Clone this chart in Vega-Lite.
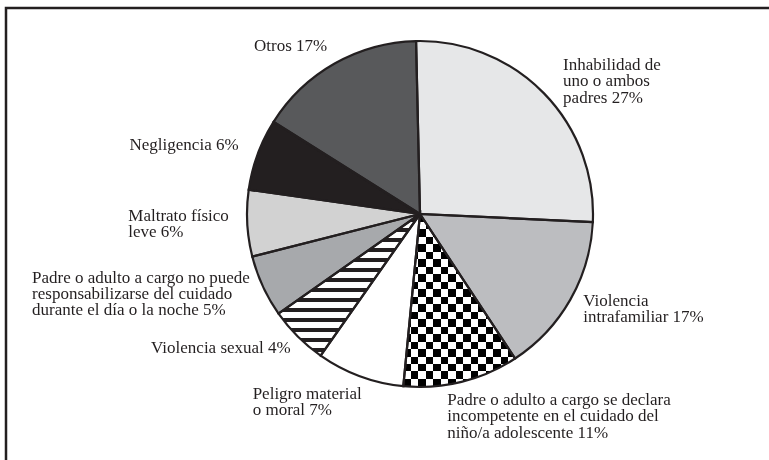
{
  "$schema": "https://vega.github.io/schema/vega-lite/v6.json",
  "width": 763,
  "height": 452,
  "autosize": {"type": "none"},
  "padding": {"left": 6, "top": 8, "right": 0, "bottom": 0},
  "background": "#ffffff",
  "config": {
    "view": {"stroke": "#231f20", "strokeWidth": 2.5, "strokeDash": [763, 1215, 452]}
  },
  "data": {
    "values": [
      {"i": 1, "cat": "Inhabilidad", "label": "Inhabilidad de\nuno o ambos\npadres 27%", "value": 26.1},
      {"i": 2, "cat": "Violencia intrafamiliar", "label": "Violencia\nintrafamiliar 17%", "value": 15.0},
      {"i": 3, "cat": "Incompetente", "label": "Padre o adulto a cargo se declara\nincompetente en el cuidado del\nniño/a adolescente 11%", "value": 10.8},
      {"i": 4, "cat": "Peligro", "label": "Peligro material\no moral 7%", "value": 8.2},
      {"i": 5, "cat": "Violencia sexual", "label": "Violencia sexual 4%", "value": 5.5},
      {"i": 6, "cat": "No puede", "label": "Padre o adulto a cargo no puede\nresponsabilizarse del cuidado\ndurante el día o la noche 5%", "value": 5.8},
      {"i": 7, "cat": "Maltrato", "label": "Maltrato físico\nleve 6%", "value": 6.2},
      {"i": 8, "cat": "Negligencia", "label": "Negligencia 6%", "value": 6.7},
      {"i": 9, "cat": "Otros", "label": "Otros 17%", "value": 15.7}
    ]
  },
  "layer": [
    {
      "mark": {"type": "point", "opacity": 0},
      "encoding": {
        "x": {"datum": 0, "type": "quantitative", "axis": null, "scale": {"domain": [0, 1]}},
        "y": {"datum": 0, "type": "quantitative", "axis": null, "scale": {"domain": [0, 1]}}
      }
    },
    {
      "mark": {"type": "arc", "x": 414, "y": 206, "radius": 173, "stroke": null},
      "encoding": {
        "theta": {"field": "value", "type": "quantitative", "stack": true, "scale": {"domain": [0, 100], "range": [-0.02269, 6.26049]}},
        "order": {"field": "i", "type": "quantitative"},
        "color": {
          "field": "cat", "type": "nominal", "legend": null,
          "scale": {
            "domain": ["Inhabilidad", "Violencia intrafamiliar", "Incompetente", "Peligro", "Violencia sexual", "No puede", "Maltrato", "Negligencia", "Otros"],
            "range": ["#e6e7e8", "#bcbdc0", "#ffffff", "#ffffff", "#ffffff", "#a7a9ac", "#d2d2d2", "#231f20", "#58595b"]
          }
        }
      }
    },
    {
      "mark": {"type": "arc", "x": 414, "y": 206, "radius": 173, "stroke": null,
        "fill": {"gradient": "linear", "x1": 0, "y1": 0, "x2": 0, "y2": 1, "stops": [
          {"offset": 0, "color": "#ffffff"}, {"offset": 0.0283, "color": "#ffffff"}, {"offset": 0.0283, "color": "#231f20"}, {"offset": 0.0566, "color": "#231f20"},
          {"offset": 0.0566, "color": "#ffffff"}, {"offset": 0.0990, "color": "#ffffff"}, {"offset": 0.0990, "color": "#231f20"}, {"offset": 0.1273, "color": "#231f20"},
          {"offset": 0.1273, "color": "#ffffff"}, {"offset": 0.1697, "color": "#ffffff"}, {"offset": 0.1697, "color": "#231f20"}, {"offset": 0.1980, "color": "#231f20"},
          {"offset": 0.1980, "color": "#ffffff"}, {"offset": 0.2405, "color": "#ffffff"}, {"offset": 0.2405, "color": "#231f20"}, {"offset": 0.2687, "color": "#231f20"},
          {"offset": 0.2687, "color": "#ffffff"}, {"offset": 0.3112, "color": "#ffffff"}, {"offset": 0.3112, "color": "#231f20"}, {"offset": 0.3395, "color": "#231f20"},
          {"offset": 0.3395, "color": "#ffffff"}, {"offset": 0.3819, "color": "#ffffff"}, {"offset": 0.3819, "color": "#231f20"}, {"offset": 0.4102, "color": "#231f20"},
          {"offset": 0.4102, "color": "#ffffff"}, {"offset": 0.4526, "color": "#ffffff"}, {"offset": 0.4526, "color": "#231f20"}, {"offset": 0.4809, "color": "#231f20"},
          {"offset": 0.4809, "color": "#ffffff"}, {"offset": 0.5233, "color": "#ffffff"}, {"offset": 0.5233, "color": "#231f20"}, {"offset": 0.5516, "color": "#231f20"},
          {"offset": 0.5516, "color": "#ffffff"}, {"offset": 0.5941, "color": "#ffffff"}, {"offset": 0.5941, "color": "#231f20"}, {"offset": 0.6223, "color": "#231f20"},
          {"offset": 0.6223, "color": "#ffffff"}, {"offset": 0.6648, "color": "#ffffff"}, {"offset": 0.6648, "color": "#231f20"}, {"offset": 0.6931, "color": "#231f20"},
          {"offset": 0.6931, "color": "#ffffff"}, {"offset": 0.7355, "color": "#ffffff"}, {"offset": 0.7355, "color": "#231f20"}, {"offset": 0.7638, "color": "#231f20"},
          {"offset": 0.7638, "color": "#ffffff"}, {"offset": 0.8062, "color": "#ffffff"}, {"offset": 0.8062, "color": "#231f20"}, {"offset": 0.8345, "color": "#231f20"},
          {"offset": 0.8345, "color": "#ffffff"}, {"offset": 0.8769, "color": "#ffffff"}, {"offset": 0.8769, "color": "#231f20"}, {"offset": 0.9052, "color": "#231f20"},
          {"offset": 0.9052, "color": "#ffffff"}, {"offset": 0.9477, "color": "#ffffff"}, {"offset": 0.9477, "color": "#231f20"}, {"offset": 0.9760, "color": "#231f20"},
          {"offset": 0.9760, "color": "#ffffff"}, {"offset": 1, "color": "#ffffff"}
        ]}
      },
      "encoding": {
        "theta": {"field": "value", "type": "quantitative", "stack": true, "scale": {"domain": [0, 100], "range": [-0.02269, 6.26049]}},
        "order": {"field": "i", "type": "quantitative"},
        "fillOpacity": {"condition": {"test": "datum.i === 5", "value": 1}, "value": 0}
      }
    },
    {
      "mark": {"type": "arc", "x": 414, "y": 206, "radius": 173, "stroke": null,
        "fill": {"gradient": "linear", "x1": 0, "y1": 0, "x2": 0, "y2": 1, "stops": [
          {"offset": 0, "color": "#000000"}, {"offset": 0.0434, "color": "#000000"}, {"offset": 0.0434, "color": "#ffffff"}, {"offset": 0.0867, "color": "#ffffff"},
          {"offset": 0.0867, "color": "#000000"}, {"offset": 0.1301, "color": "#000000"}, {"offset": 0.1301, "color": "#ffffff"}, {"offset": 0.1734, "color": "#ffffff"},
          {"offset": 0.1734, "color": "#000000"}, {"offset": 0.2168, "color": "#000000"}, {"offset": 0.2168, "color": "#ffffff"}, {"offset": 0.2601, "color": "#ffffff"},
          {"offset": 0.2601, "color": "#000000"}, {"offset": 0.3035, "color": "#000000"}, {"offset": 0.3035, "color": "#ffffff"}, {"offset": 0.3468, "color": "#ffffff"},
          {"offset": 0.3468, "color": "#000000"}, {"offset": 0.3902, "color": "#000000"}, {"offset": 0.3902, "color": "#ffffff"}, {"offset": 0.4335, "color": "#ffffff"},
          {"offset": 0.4335, "color": "#000000"}, {"offset": 0.4769, "color": "#000000"}, {"offset": 0.4769, "color": "#ffffff"}, {"offset": 0.5202, "color": "#ffffff"},
          {"offset": 0.5202, "color": "#000000"}, {"offset": 0.5636, "color": "#000000"}, {"offset": 0.5636, "color": "#ffffff"}, {"offset": 0.6069, "color": "#ffffff"},
          {"offset": 0.6069, "color": "#000000"}, {"offset": 0.6503, "color": "#000000"}, {"offset": 0.6503, "color": "#ffffff"}, {"offset": 0.6936, "color": "#ffffff"},
          {"offset": 0.6936, "color": "#000000"}, {"offset": 0.7370, "color": "#000000"}, {"offset": 0.7370, "color": "#ffffff"}, {"offset": 0.7803, "color": "#ffffff"},
          {"offset": 0.7803, "color": "#000000"}, {"offset": 0.8237, "color": "#000000"}, {"offset": 0.8237, "color": "#ffffff"}, {"offset": 0.8671, "color": "#ffffff"},
          {"offset": 0.8671, "color": "#000000"}, {"offset": 0.9104, "color": "#000000"}, {"offset": 0.9104, "color": "#ffffff"}, {"offset": 0.9538, "color": "#ffffff"},
          {"offset": 0.9538, "color": "#000000"}, {"offset": 0.9971, "color": "#000000"}, {"offset": 0.9971, "color": "#ffffff"}, {"offset": 1, "color": "#ffffff"}
        ]}
      },
      "encoding": {
        "theta": {"field": "value", "type": "quantitative", "stack": true, "scale": {"domain": [0, 100], "range": [-0.02269, 6.26049]}},
        "order": {"field": "i", "type": "quantitative"},
        "fillOpacity": {"condition": {"test": "datum.i === 3", "value": 1}, "value": 0}
      }
    },
    {
      "mark": {"type": "arc", "x": 414, "y": 206, "radius": 173, "stroke": null, "blend": "difference",
        "fill": {"gradient": "linear", "x1": 0, "y1": 0, "x2": 1, "y2": 0, "stops": [
          {"offset": 0, "color": "#000000"}, {"offset": 0.0669, "color": "#000000"}, {"offset": 0.0669, "color": "#ffffff"}, {"offset": 0.1338, "color": "#ffffff"},
          {"offset": 0.1338, "color": "#000000"}, {"offset": 0.2007, "color": "#000000"}, {"offset": 0.2007, "color": "#ffffff"}, {"offset": 0.2676, "color": "#ffffff"},
          {"offset": 0.2676, "color": "#000000"}, {"offset": 0.3345, "color": "#000000"}, {"offset": 0.3345, "color": "#ffffff"}, {"offset": 0.4014, "color": "#ffffff"},
          {"offset": 0.4014, "color": "#000000"}, {"offset": 0.4683, "color": "#000000"}, {"offset": 0.4683, "color": "#ffffff"}, {"offset": 0.5352, "color": "#ffffff"},
          {"offset": 0.5352, "color": "#000000"}, {"offset": 0.6021, "color": "#000000"}, {"offset": 0.6021, "color": "#ffffff"}, {"offset": 0.6690, "color": "#ffffff"},
          {"offset": 0.6690, "color": "#000000"}, {"offset": 0.7359, "color": "#000000"}, {"offset": 0.7359, "color": "#ffffff"}, {"offset": 0.8029, "color": "#ffffff"},
          {"offset": 0.8029, "color": "#000000"}, {"offset": 0.8698, "color": "#000000"}, {"offset": 0.8698, "color": "#ffffff"}, {"offset": 0.9367, "color": "#ffffff"},
          {"offset": 0.9367, "color": "#000000"}, {"offset": 1, "color": "#000000"}
        ]}
      },
      "encoding": {
        "theta": {"field": "value", "type": "quantitative", "stack": true, "scale": {"domain": [0, 100], "range": [-0.02269, 6.26049]}},
        "order": {"field": "i", "type": "quantitative"},
        "fillOpacity": {"condition": {"test": "datum.i === 3", "value": 1}, "value": 0}
      }
    },
    {
      "mark": {"type": "arc", "x": 414, "y": 206, "radius": 173, "fillOpacity": 0, "stroke": "#231f20", "strokeWidth": 2.2},
      "encoding": {
        "theta": {"field": "value", "type": "quantitative", "stack": true, "scale": {"domain": [0, 100], "range": [-0.02269, 6.26049]}},
        "order": {"field": "i", "type": "quantitative"}
      }
    },
    {
      "mark": {"type": "text", "x": 414, "y": 206, "radius": 200, "align": "left", "baseline": "alphabetic", "dx": 0, "dy": -4, "font": "Liberation Serif", "fontSize": 17, "lineHeight": 16.2, "lineBreak": "\n", "color": "#231f20"},
      "encoding": {
        "theta": {"field": "value", "type": "quantitative", "stack": true, "scale": {"domain": [0, 100], "range": [-0.02269, 6.26049]}},
        "order": {"field": "i", "type": "quantitative"},
        "text": {"condition": {"test": "datum.i === 1", "field": "label", "type": "nominal"}, "value": ""}
      }
    },
    {
      "mark": {"type": "text", "x": 414, "y": 206, "radius": 188, "align": "left", "baseline": "alphabetic", "dx": 0, "dy": -1, "font": "Liberation Serif", "fontSize": 17, "lineHeight": 16.2, "lineBreak": "\n", "color": "#231f20"},
      "encoding": {
        "theta": {"field": "value", "type": "quantitative", "stack": true, "scale": {"domain": [0, 100], "range": [-0.02269, 6.26049]}},
        "order": {"field": "i", "type": "quantitative"},
        "text": {"condition": {"test": "datum.i === 2", "field": "label", "type": "nominal"}, "value": ""}
      }
    },
    {
      "mark": {"type": "text", "x": 414, "y": 206, "radius": 197, "align": "left", "baseline": "alphabetic", "dx": -20, "dy": 0, "font": "Liberation Serif", "fontSize": 17, "lineHeight": 16.2, "lineBreak": "\n", "color": "#231f20"},
      "encoding": {
        "theta": {"field": "value", "type": "quantitative", "stack": true, "scale": {"domain": [0, 100], "range": [-0.02269, 6.26049]}},
        "order": {"field": "i", "type": "quantitative"},
        "text": {"condition": {"test": "datum.i === 3", "field": "label", "type": "nominal"}, "value": ""}
      }
    },
    {
      "mark": {"type": "text", "x": 414, "y": 206, "radius": 197, "align": "left", "baseline": "alphabetic", "dx": -99, "dy": 0, "font": "Liberation Serif", "fontSize": 17, "lineHeight": 16.2, "lineBreak": "\n", "color": "#231f20"},
      "encoding": {
        "theta": {"field": "value", "type": "quantitative", "stack": true, "scale": {"domain": [0, 100], "range": [-0.02269, 6.26049]}},
        "order": {"field": "i", "type": "quantitative"},
        "text": {"condition": {"test": "datum.i === 4", "field": "label", "type": "nominal"}, "value": ""}
      }
    },
    {
      "mark": {"type": "text", "x": 414, "y": 206, "radius": 190, "align": "right", "baseline": "alphabetic", "dx": 5, "dy": 5, "font": "Liberation Serif", "fontSize": 17, "lineHeight": 16.2, "lineBreak": "\n", "color": "#231f20"},
      "encoding": {
        "theta": {"field": "value", "type": "quantitative", "stack": true, "scale": {"domain": [0, 100], "range": [-0.02269, 6.26049]}},
        "order": {"field": "i", "type": "quantitative"},
        "text": {"condition": {"test": "datum.i === 5", "field": "label", "type": "nominal"}, "value": ""}
      }
    },
    {
      "mark": {"type": "text", "x": 414, "y": 206, "radius": 176, "align": "left", "baseline": "alphabetic", "dx": -228, "dy": -5, "font": "Liberation Serif", "fontSize": 17, "lineHeight": 16.2, "lineBreak": "\n", "color": "#231f20"},
      "encoding": {
        "theta": {"field": "value", "type": "quantitative", "stack": true, "scale": {"domain": [0, 100], "range": [-0.02269, 6.26049]}},
        "order": {"field": "i", "type": "quantitative"},
        "text": {"condition": {"test": "datum.i === 6", "field": "label", "type": "nominal"}, "value": ""}
      }
    },
    {
      "mark": {"type": "text", "x": 414, "y": 206, "radius": 190, "align": "left", "baseline": "alphabetic", "dx": -102, "dy": -3, "font": "Liberation Serif", "fontSize": 17, "lineHeight": 16.2, "lineBreak": "\n", "color": "#231f20"},
      "encoding": {
        "theta": {"field": "value", "type": "quantitative", "stack": true, "scale": {"domain": [0, 100], "range": [-0.02269, 6.26049]}},
        "order": {"field": "i", "type": "quantitative"},
        "text": {"condition": {"test": "datum.i === 7", "field": "label", "type": "nominal"}, "value": ""}
      }
    },
    {
      "mark": {"type": "text", "x": 414, "y": 206, "radius": 190, "align": "right", "baseline": "alphabetic", "dx": -3, "dy": 1, "font": "Liberation Serif", "fontSize": 17, "lineHeight": 16.2, "lineBreak": "\n", "color": "#231f20"},
      "encoding": {
        "theta": {"field": "value", "type": "quantitative", "stack": true, "scale": {"domain": [0, 100], "range": [-0.02269, 6.26049]}},
        "order": {"field": "i", "type": "quantitative"},
        "text": {"condition": {"test": "datum.i === 8", "field": "label", "type": "nominal"}, "value": ""}
      }
    },
    {
      "mark": {"type": "text", "x": 414, "y": 206, "radius": 190, "align": "right", "baseline": "alphabetic", "dx": 1, "dy": 2, "font": "Liberation Serif", "fontSize": 17, "lineHeight": 16.2, "lineBreak": "\n", "color": "#231f20"},
      "encoding": {
        "theta": {"field": "value", "type": "quantitative", "stack": true, "scale": {"domain": [0, 100], "range": [-0.02269, 6.26049]}},
        "order": {"field": "i", "type": "quantitative"},
        "text": {"condition": {"test": "datum.i === 9", "field": "label", "type": "nominal"}, "value": ""}
      }
    }
  ]
}
